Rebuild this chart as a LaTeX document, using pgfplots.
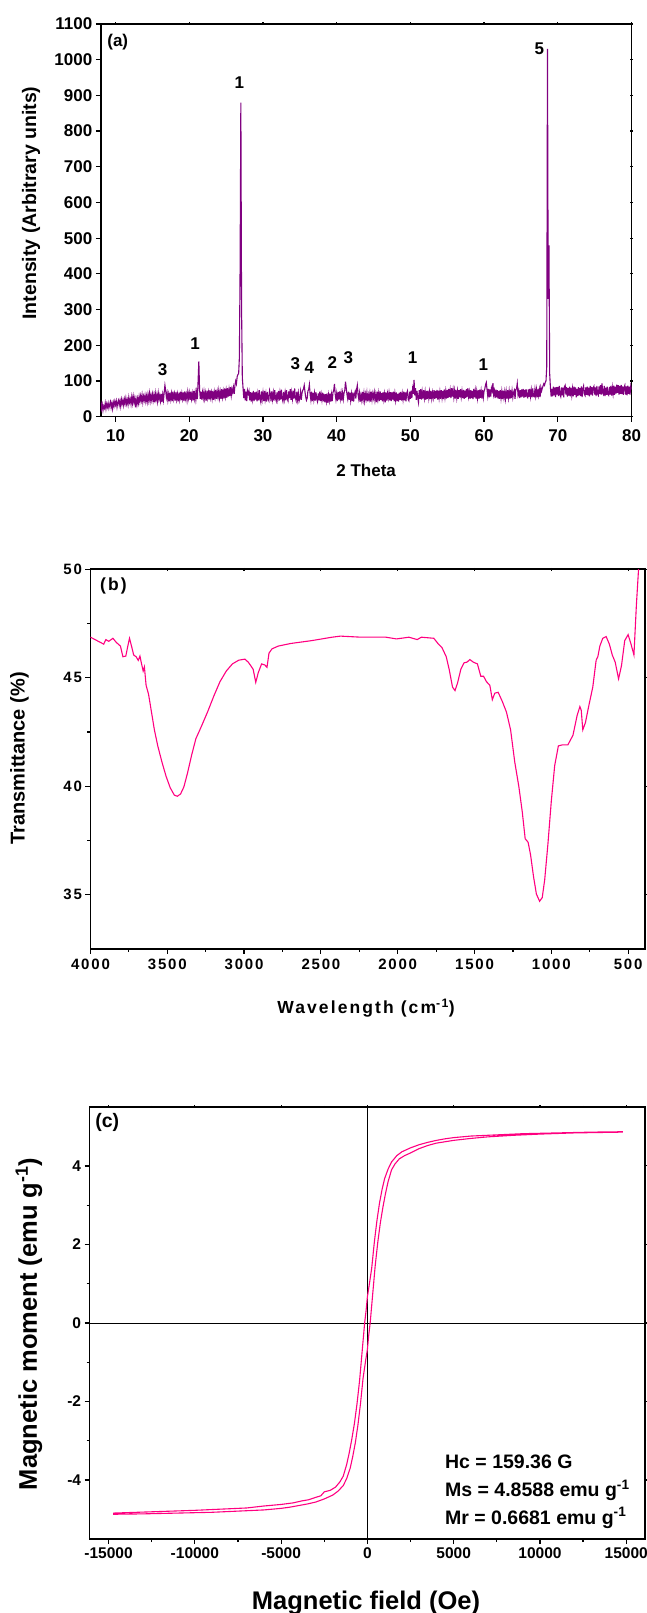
\documentclass[border=0pt]{standalone}
\usepackage{fontspec}
\setmainfont{Liberation Sans}
\newfontfamily\spaced[LetterSpace=12]{Liberation Sans}
\usepackage{pgfplots}
\pgfplotsset{compat=1.18}
\definecolor{xrd}{RGB}{128,0,128}
\definecolor{pinkline}{RGB}{255,0,128}
\newcommand\fa{\fontsize{17}{20}\selectfont\bfseries}
\newcommand\fal{\fontsize{19.5}{22}\selectfont\bfseries}
\newcommand\fb{\fontsize{15}{18}\selectfont\spaced\bfseries}
\newcommand\fbl{\fontsize{17.5}{20}\selectfont\spaced\bfseries}
\newcommand\fc{\fontsize{15.5}{18}\selectfont\bfseries}
\newcommand\fcl{\fontsize{25.5}{28}\selectfont\bfseries}
\newcommand\fct{\fontsize{19.5}{22}\selectfont\bfseries}

\pgfplotsset{
  base/.style={scale only axis, anchor=south west,
    axis line style={line width=1.6pt},
    tick style={line width=1.2pt, black},
    /pgf/number format/fixed, /pgf/number format/1000 sep={},
    /pgf/number format/assume math mode=true,
    scaled ticks=false},
  front/.style={base, xtick pos=left, ytick pos=left, tick align=outside,
    major tick length=5pt, minor tick length=3pt},
  back/.style={base, xtick pos=right, ytick pos=right, tick align=center,
    major tick length=3pt, minor tick length=2pt, xticklabels={}, yticklabels={}},
  geomA/.style={width=530.7pt, height=392.7pt, at={(100.8pt,1196.3pt)},
    xmin=8, xmax=80, ymin=0, ymax=1100, xtick={10,20,...,80}, ytick={0,100,...,1100}},
  geomB/.style={width=554.5pt, height=379.7pt, at={(90.5pt,664pt)}, x dir=reverse,
    xmin=390, xmax=4000, ymin=32.5, ymax=50, xtick={500,1000,...,4000}, ytick={35,40,45,50},
    minor x tick num=1, minor y tick num=1},
  geomC/.style={width=555.6pt, height=432pt, at={(89.6pt,74pt)},
    xmin=-16100, xmax=16100, ymin=-5.5, ymax=5.5, xtick={-15000,-10000,...,15000},
    ytick={-4,-2,0,2,4}, minor x tick num=1, minor y tick num=1},
}

\begin{document}
\begin{tikzpicture}
% ---------------- (a) XRD ----------------
\begin{axis}[back, geomA]\end{axis}
\begin{axis}[front, geomA,
  tick label style={font=\fa}, xticklabel style={yshift=-4pt},
  xlabel={\fa 2 Theta}, ylabel={\fal Intensity (Arbitrary units)},
  xlabel style={at={(axis description cs:0.5,-0.136)}, anchor=center},
  ylabel style={at={(axis description cs:-0.1315,0.544)}, anchor=center}]
\addplot[xrd, line width=1.1pt] table[header=false, row sep=\\, x expr=8+0.1*\coordindex, y index=0] {
45\\22\\34\\18\\30\\24\\38\\22\\36\\27\\
38\\24\\34\\42\\26\\37\\22\\40\\30\\43\\
33\\44\\27\\40\\46\\32\\44\\29\\48\\36\\
46\\32\\49\\37\\52\\36\\47\\34\\54\\40\\
49\\35\\55\\38\\57\\41\\52\\26\\48\\34\\
51\\38\\56\\42\\58\\45\\61\\41\\57\\46\\
60\\43\\58\\42\\62\\46\\65\\44\\60\\47\\
63\\45\\60\\40\\65\\48\\61\\43\\66\\49\\
60\\44\\64\\41\\62\\46\\68\\88\\74\\54\\
66\\46\\62\\43\\68\\49\\65\\44\\70\\50\\
64\\45\\69\\48\\63\\43\\67\\49\\70\\46\\
65\\50\\68\\44\\71\\51\\63\\46\\69\\52\\
67\\47\\70\\50\\65\\45\\72\\51\\68\\48\\
69\\49\\100\\155\\76\\50\\70\\48\\68\\52\\
70\\50\\66\\45\\73\\53\\68\\48\\74\\54\\
68\\51\\72\\47\\69\\54\\75\\50\\70\\55\\
73\\52\\69\\50\\77\\55\\71\\51\\79\\57\\
74\\53\\80\\56\\76\\58\\83\\60\\78\\68\\
82\\64\\88\\100\\92\\112\\118\\120\\165\\420\\
880\\300\\110\\80\\52\\78\\46\\70\\44\\73\\
64\\72\\46\\69\\42\\67\\49\\72\\44\\68\\
48\\70\\43\\64\\46\\74\\50\\41\\71\\49\\
67\\44\\72\\48\\64\\42\\69\\51\\45\\73\\
64\\43\\71\\49\\67\\45\\74\\51\\44\\68\\
50\\72\\45\\67\\48\\76\\51\\43\\69\\49\\
67\\46\\74\\50\\44\\71\\52\\77\\47\\68\\
50\\72\\51\\79\\53\\45\\70\\48\\66\\44\\
52\\70\\47\\67\\74\\78\\88\\70\\55\\46\\
52\\72\\76\\90\\62\\47\\70\\44\\67\\48\\
66\\45\\68\\49\\42\\65\\46\\70\\44\\63\\
47\\67\\43\\64\\40\\63\\44\\65\\39\\61\\
45\\65\\42\\62\\44\\68\\74\\92\\63\\48\\
65\\44\\69\\48\\71\\50\\67\\45\\66\\49\\
67\\74\\98\\80\\62\\50\\70\\47\\67\\45\\
64\\44\\68\\42\\62\\70\\51\\76\\88\\62\\
49\\66\\42\\60\\46\\69\\48\\66\\44\\63\\
50\\67\\43\\61\\49\\65\\42\\70\\48\\65\\
52\\68\\46\\62\\41\\70\\49\\66\\44\\71\\
47\\66\\43\\69\\48\\64\\40\\68\\45\\65\\
51\\67\\46\\69\\44\\68\\48\\70\\43\\65\\
46\\68\\44\\64\\42\\67\\47\\69\\45\\65\\
48\\70\\46\\68\\43\\66\\72\\49\\45\\70\\
50\\73\\52\\78\\64\\103\\60\\80\\47\\72\\
52\\40\\74\\50\\77\\48\\70\\51\\74\\52\\
70\\47\\72\\50\\73\\52\\70\\49\\72\\51\\
68\\53\\74\\50\\72\\52\\75\\48\\73\\52\\
70\\50\\74\\53\\72\\49\\76\\54\\72\\51\\
75\\53\\78\\55\\74\\52\\80\\56\\75\\54\\
73\\51\\75\\53\\72\\50\\74\\54\\77\\55\\
72\\52\\75\\50\\73\\53\\77\\55\\80\\56\\
70\\50\\74\\52\\72\\49\\78\\54\\73\\51\\
71\\52\\74\\50\\76\\53\\72\\51\\75\\54\\
72\\78\\90\\96\\76\\58\\78\\54\\76\\56\\
80\\72\\94\\62\\73\\52\\76\\54\\74\\51\\
72\\50\\74\\52\\71\\49\\73\\53\\70\\50\\
71\\51\\74\\53\\72\\50\\75\\52\\73\\54\\
68\\74\\50\\76\\78\\93\\62\\72\\52\\74\\
54\\76\\56\\78\\53\\75\\55\\77\\57\\54\\
76\\55\\78\\57\\75\\54\\79\\58\\56\\77\\
58\\76\\54\\78\\60\\76\\55\\82\\72\\80\\
86\\92\\88\\96\\100\\140\\1030\\330\\480\\120\\
82\\56\\78\\57\\84\\60\\82\\55\\83\\62\\
83\\58\\86\\62\\56\\82\\60\\81\\54\\84\\
88\\62\\83\\56\\80\\59\\84\\57\\81\\60\\
79\\57\\84\\61\\82\\54\\78\\58\\83\\60\\
80\\58\\85\\55\\78\\86\\63\\59\\82\\61\\
84\\60\\81\\57\\86\\62\\83\\59\\80\\85\\
62\\82\\58\\86\\64\\60\\85\\63\\88\\62\\
93\\66\\62\\86\\58\\81\\61\\84\\63\\60\\
83\\62\\86\\59\\82\\64\\87\\61\\84\\65\\
90\\67\\88\\62\\86\\64\\89\\63\\85\\61\\
82\\88\\62\\85\\60\\87\\64\\84\\62\\86\\
76\\
};
\node[font=\fa, anchor=north west, inner sep=0pt] at (rel axis cs:0.012,0.975) {(a)};
\begin{scope}[every node/.style={font=\fa, inner sep=0pt}]
\node at (axis cs:16.4,133) {3};
\node at (axis cs:20.8,205) {1};
\node at (axis cs:26.8,936) {1};
\node at (axis cs:34.4,148) {3};
\node at (axis cs:36.3,137) {4};
\node at (axis cs:39.4,152) {2};
\node at (axis cs:41.6,166) {3};
\node at (axis cs:50.3,165) {1};
\node at (axis cs:59.9,147) {1};
\node at (axis cs:67.5,1032) {5};
\end{scope}
\end{axis}

% ---------------- (b) FTIR ----------------
\begin{axis}[back, geomB]\end{axis}
\begin{axis}[front, geomB,
  tick label style={font=\fb}, xticklabel style={yshift=-2pt},
  xlabel={\fbl Wavelength (cm\textsuperscript{-1})}, ylabel={\fontsize{20}{22}\selectfont\bfseries Transmittance (\%)},
  xlabel style={at={(axis description cs:0.497,-0.155)}, anchor=center},
  ylabel style={at={(axis description cs:-0.128,0.502)}, anchor=center}]
\addplot[pinkline, line width=1.1pt] coordinates {
(4000,46.87)(3914,46.55)(3900,46.76)(3881,46.68)(3854,46.82)(3832,46.63)(3805,46.46)
(3789,45.97)(3770,46.0)(3757,46.46)(3746,46.82)(3730,46.38)(3719,46.05)(3703,45.97)
(3689,45.8)(3678,46.0)(3670,45.72)(3657,45.31)(3649,45.5)(3638,44.65)(3622,44.24)
(3603,43.42)(3584,42.6)(3562,41.86)(3535,41.12)(3508,40.46)(3481,39.93)(3454,39.59)
(3435,39.54)(3414,39.64)(3392,39.97)(3368,40.62)(3341,41.45)(3314,42.19)(3278,42.76)
(3238,43.42)(3197,44.16)(3157,44.82)(3116,45.31)(3076,45.64)(3035,45.81)(2995,45.86)
(2973,45.72)(2954,45.53)(2941,45.39)(2924,44.79)(2908,45.23)(2886,45.64)(2865,45.59)
(2851,45.48)(2838,46.13)(2819,46.33)(2778,46.46)(2697,46.58)(2562,46.71)(2427,46.87)
(2373,46.92)(2238,46.87)(2076,46.87)(2008,46.79)(1927,46.87)(1873,46.76)(1846,46.87)
(1765,46.82)(1738,46.58)(1711,46.38)(1684,45.97)(1665,45.39)(1643,44.57)(1627,44.41)
(1611,44.74)(1589,45.39)(1568,45.69)(1549,45.72)(1530,45.84)(1508,45.72)(1481,45.64)
(1459,45.07)(1441,45.07)(1422,44.82)(1400,44.65)(1384,43.99)(1368,44.29)(1346,44.33)
(1319,43.91)(1292,43.42)(1265,42.6)(1238,41.12)(1211,39.97)(1189,38.82)(1170,37.58)
(1151,37.42)(1135,36.84)(1116,35.85)(1097,35.03)(1076,34.70)(1059,34.87)(1043,35.69)
(1022,37.34)(1000,39.31)(978,40.95)(954,41.86)(927,41.91)(892,41.91)(859,42.35)
(832,43.26)(814,43.67)(805,43.5)(795,42.6)(778,42.93)(757,43.67)(730,44.57)
(708,45.81)(697,45.97)(684,46.46)(665,46.82)(643,46.9)(622,46.55)(603,46.05)
(584,45.72)(562,44.95)(543,45.56)(522,46.71)(500,46.99)(481,46.55)(462,46.05)
(446,48.36)(432,50.0)(425,51.5)
};
\node[font=\fbl, anchor=north west, inner sep=0pt] at (rel axis cs:0.017,0.977) {(b)};
\end{axis}

% ---------------- (c) VSM ----------------
\begin{axis}[back, geomC]\end{axis}
\begin{axis}[front, geomC,
  tick label style={font=\fc},
  xlabel={\fcl Magnetic field (Oe)}, ylabel={\fcl Magnetic moment (emu g\textsuperscript{-1})},
  xlabel style={at={(axis description cs:0.4975,-0.148)}, anchor=center},
  ylabel style={at={(axis description cs:-0.109,0.498)}, anchor=center}]
\addplot[black, line width=0.8pt] coordinates {(0,-5.5)(0,5.5)};
\addplot[black, line width=0.8pt] coordinates {(-16100,0)(16100,0)};
\addplot[pinkline, line width=1.1pt] coordinates {
(14800,4.87)(13000,4.86)(11000,4.84)(9000,4.82)(7000,4.78)(6000,4.76)(5000,4.72)
(4500,4.69)(4000,4.65)(3500,4.60)(3000,4.54)(2500,4.46)(2000,4.36)(1700,4.26)
(1400,4.10)(1200,3.92)(1000,3.68)(850,3.40)(700,3.05)(550,2.60)(400,2.05)(250,1.40)
(100,0.95)(0,0.67)(-80,0.30)(-160,0)(-250,-0.45)(-350,-0.95)(-450,-1.45)(-600,-2.05)
(-750,-2.55)(-900,-2.95)(-1050,-3.30)(-1200,-3.60)(-1400,-3.90)(-1600,-4.05)
(-1850,-4.18)(-2150,-4.26)(-2500,-4.30)(-2700,-4.40)(-3000,-4.44)(-3400,-4.50)
(-3800,-4.53)(-4300,-4.58)(-5000,-4.62)(-6000,-4.66)(-7000,-4.71)(-8500,-4.74)
(-10000,-4.77)(-12000,-4.80)(-14700,-4.84)
(-14700,-4.87)(-13000,-4.86)(-11000,-4.84)(-9000,-4.82)(-7000,-4.78)(-6000,-4.76)
(-5000,-4.72)(-4500,-4.69)(-4000,-4.65)(-3500,-4.61)(-3000,-4.56)(-2500,-4.48)
(-2000,-4.38)(-1700,-4.28)(-1400,-4.14)(-1200,-3.96)(-1000,-3.70)(-850,-3.40)
(-700,-3.05)(-550,-2.60)(-400,-2.05)(-250,-1.40)(-100,-0.95)(0,-0.67)(80,-0.30)
(160,0)(250,0.45)(350,0.95)(450,1.45)(600,2.05)(750,2.55)(900,2.95)(1050,3.30)
(1200,3.60)(1400,3.90)(1600,4.05)(1850,4.18)(2150,4.26)(2500,4.33)(3000,4.44)
(3500,4.52)(4000,4.58)(5000,4.65)(6000,4.70)(7000,4.74)(8500,4.78)(10000,4.81)
(12000,4.84)(14800,4.86)
};
\node[font=\fct, anchor=north west, inner sep=0pt] at (rel axis cs:0.01,0.986) {(c)};
\begin{scope}[every node/.style={font=\fct, anchor=west, inner sep=0pt}]
\node at (axis cs:4495,-3.54) {Hc = 159.36 G};
\node at (axis cs:4495,-4.26) {Ms = 4.8588 emu g\textsuperscript{-1}};
\node at (axis cs:4495,-4.96) {Mr = 0.6681 emu g\textsuperscript{-1}};
\end{scope}
\end{axis}

\pgfresetboundingbox
\path[use as bounding box] (0pt,0pt) rectangle (647pt,1613pt);
\end{tikzpicture}
\end{document}
